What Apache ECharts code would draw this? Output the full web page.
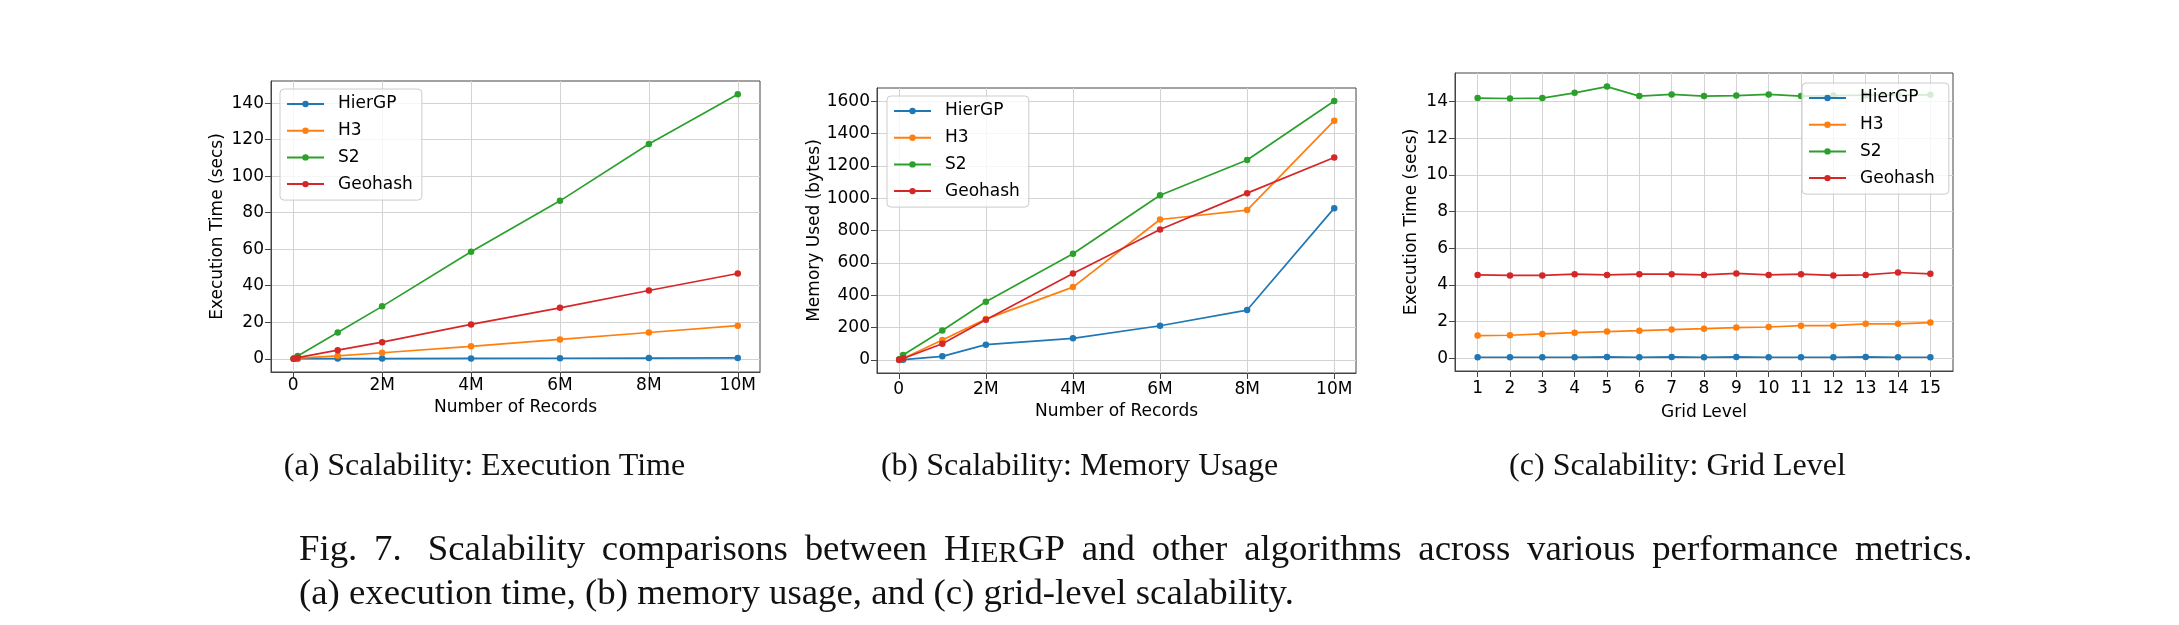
<!DOCTYPE html>
<html><head><meta charset="utf-8">
<script src="https://cdn.jsdelivr.net/npm/echarts@6/dist/echarts.min.js"></script>
<style>html,body{margin:0;padding:0;background:#fff}#c{width:2179px;height:625px}</style>
</head><body><div id="c"></div>
<script>
const seriesNames = ['HierGP', 'H3', 'S2', 'Geohash'];
const colors = ['#1f77b4', '#ff7f0e', '#2ca02c', '#d62728'];

// (a) Scalability: Execution Time  (x in millions of records)
const recordsM = [0.01, 0.1, 1, 2, 4, 6, 8, 10];
const timeHierGP = [0.02, 0.03, 0.08, 0.12, 0.2, 0.28, 0.36, 0.45];
const timeH3 = [0.05, 0.3, 1.6, 3.3, 6.8, 10.6, 14.4, 18.1];
const timeS2 = [0.1, 1.5, 14.4, 28.7, 58.6, 86.5, 117.6, 144.9];
const timeGeohash = [0.05, 0.6, 4.7, 9.1, 18.8, 27.9, 37.4, 46.7];

// (b) Scalability: Memory Usage
const memHierGP = [0, 2, 23, 95, 134, 212, 309, 939];
const memH3 = [2, 10, 124, 253, 451, 869, 927, 1480];
const memS2 = [5, 31, 183, 360, 657, 1019, 1237, 1602];
const memGeohash = [2, 10, 101, 249, 535, 807, 1032, 1252];

// (c) Scalability: Grid Level
const gridLevels = [1, 2, 3, 4, 5, 6, 7, 8, 9, 10, 11, 12, 13, 14, 15];
const gridHierGP = [0.06, 0.06, 0.06, 0.06, 0.08, 0.06, 0.08, 0.06, 0.08, 0.06, 0.06, 0.06, 0.08, 0.06, 0.06];
const gridH3 = [1.24, 1.26, 1.33, 1.40, 1.46, 1.51, 1.57, 1.62, 1.68, 1.71, 1.78, 1.78, 1.88, 1.88, 1.95];
const gridS2 = [14.19, 14.17, 14.19, 14.48, 14.82, 14.30, 14.39, 14.30, 14.33, 14.39, 14.30, 14.33, 14.35, 14.35, 14.37];
const gridGeohash = [4.55, 4.52, 4.52, 4.59, 4.55, 4.59, 4.59, 4.55, 4.63, 4.55, 4.59, 4.52, 4.55, 4.68, 4.61];

// tick values / labels
const recordTicks = [0, 2, 4, 6, 8, 10];
const recordTickLabels = ['0', '2M', '4M', '6M', '8M', '10M'];
const timeTicks = [0, 20, 40, 60, 80, 100, 120, 140];
const memTicks = [0, 200, 400, 600, 800, 1000, 1200, 1400, 1600];
const gridTimeTicks = [0, 2, 4, 6, 8, 10, 12, 14];

// texts
const subCaptions = ['(a) Scalability: Execution Time', '(b) Scalability: Memory Usage', '(c) Scalability: Grid Level'];
const xNames = ['Number of Records', 'Number of Records', 'Grid Level'];
const yNames = ['Execution Time (secs)', 'Memory Used (bytes)', 'Execution Time (secs)'];
const captionLine1Words = ['Fig.', '7.', 'Scalability', 'comparisons', 'between', '{s|H}{sc|IER}{s|GP}', 'and', 'other', 'algorithms', 'across', 'various', 'performance', 'metrics.'];
const captionLine2 = '(a) execution time, (b) memory usage, and (c) grid-level scalability.';

const SANS = 'DejaVu Sans';
const SERIF = 'Liberation Serif';
const FS = 17;
const AX = '#444';
const GRIDC = '#d3d3d3';

function xAxisCfg(gi, min, max, ticks, labels, name, nameGap, margin) {
  return {
    type: 'value', gridIndex: gi, min: min, max: max,
    name: name, nameLocation: 'middle', nameGap: nameGap,
    nameTextStyle: { fontFamily: SANS, fontSize: FS, color: '#000', lineHeight: 17 },
    axisLine: { show: true, onZero: false, lineStyle: { color: AX, width: 1 } },
    axisTick: { show: true, inside: false, length: 6, customValues: ticks, lineStyle: { color: AX, width: 1 } },
    axisLabel: { customValues: ticks, margin: margin, fontFamily: SANS, fontSize: FS, color: '#000', lineHeight: 17,
      formatter: function (v) { const i = ticks.indexOf(v); return i >= 0 ? labels[i] : ''; } },
    splitLine: { show: true, lineStyle: { color: GRIDC, width: 1 } }
  };
}
function yAxisCfg(gi, min, max, ticks, name, nameGap) {
  return {
    type: 'value', gridIndex: gi, min: min, max: max,
    name: name, nameLocation: 'middle', nameGap: nameGap,
    nameTextStyle: { fontFamily: SANS, fontSize: FS, color: '#000', lineHeight: 17 },
    axisLine: { show: true, onZero: false, lineStyle: { color: AX, width: 1 } },
    axisTick: { show: true, inside: false, length: 6, customValues: ticks, lineStyle: { color: AX, width: 1 } },
    axisLabel: { customValues: ticks, margin: 7, fontFamily: SANS, fontSize: FS, color: '#000',
      formatter: function (v) { return String(v); } },
    splitLine: { show: true, lineStyle: { color: GRIDC, width: 1 } }
  };
}
function legendCfg(left, top, padRight) {
  return {
    orient: 'vertical', left: left, top: top, data: seriesNames,
    backgroundColor: 'rgba(255,255,255,0.8)', borderColor: '#cccccc', borderWidth: 1, borderRadius: 4,
    padding: [6, padRight, 7, 6], itemGap: 8.7, itemWidth: 37, itemHeight: 8, selectedMode: false,
    textStyle: { fontFamily: SANS, fontSize: FS, color: '#000', lineHeight: 18, padding: [0, 0, 0, 9] }
  };
}
function mkSeries(gi, xs, ys, k) {
  return {
    type: 'line', name: seriesNames[k], xAxisIndex: gi, yAxisIndex: gi,
    data: xs.map(function (x, i) { return [x, ys[i]]; }),
    symbol: 'circle', symbolSize: 6.5, showAllSymbol: true,
    lineStyle: { color: colors[k], width: 1.7 }, itemStyle: { color: colors[k] },
    emphasis: { disabled: true }, animation: false, z: 2 + k * 0.01
  };
}

const series = [];
[timeHierGP, timeH3, timeS2, timeGeohash].forEach(function (d, k) { series.push(mkSeries(0, recordsM, d, k)); });
[memHierGP, memH3, memS2, memGeohash].forEach(function (d, k) { series.push(mkSeries(1, recordsM, d, k)); });
[gridHierGP, gridH3, gridS2, gridGeohash].forEach(function (d, k) { series.push(mkSeries(2, gridLevels, d, k)); });

// caption (justified first line, small caps "HierGP")
const capM = 36.8, capS = 29.4, capLH = 40;
const capSLH = 2 * (capLH / 2 - 0.3375 * (capM - capS));
const capRich = {
  s: { fontFamily: SERIF, fontSize: capM, lineHeight: capLH, verticalAlign: 'bottom', fill: '#111' },
  sc: { fontFamily: SERIF, fontSize: capS, lineHeight: capSLH, verticalAlign: 'bottom', fill: '#111' },
  sp: { fontFamily: SERIF, fontSize: capM, lineHeight: capLH, verticalAlign: 'bottom', fill: '#111', padding: [0, 7.6, 0, 0] }
};
const line1 = captionLine1Words.map(function (w, i) {
  const tok = w.indexOf('{') === 0 ? w : '{s|' + w + '}';
  if (i === captionLine1Words.length - 1) return tok;
  return tok + (i === 1 ? '{sp|  }' : '{sp| }');
}).join('');

const chart = echarts.init(document.getElementById('c'), null, { renderer: 'canvas' });
chart.setOption({
  backgroundColor: '#fff',
  animation: false,
  grid: [
    { left: 271, top: 81, width: 489, height: 291, show: true, borderColor: AX, borderWidth: 1, backgroundColor: 'transparent', containLabel: false },
    { left: 877, top: 88, width: 479, height: 285, show: true, borderColor: AX, borderWidth: 1, backgroundColor: 'transparent', containLabel: false },
    { left: 1455, top: 73, width: 498, height: 298, show: true, borderColor: AX, borderWidth: 1, backgroundColor: 'transparent', containLabel: false }
  ],
  xAxis: [
    xAxisCfg(0, -0.5, 10.5, recordTicks, recordTickLabels, xNames[0], 27, 5),
    xAxisCfg(1, -0.5, 10.5, recordTicks, recordTickLabels, xNames[1], 30, 8),
    xAxisCfg(2, 0.3, 15.7, gridLevels, gridLevels.map(String), xNames[2], 33, 9)
  ],
  yAxis: [
    yAxisCfg(0, -7.25, 152.15, timeTicks, yNames[0], 44.5),
    yAxisCfg(1, -80.1, 1682, memTicks, yNames[1], 54.3),
    yAxisCfg(2, -0.69, 15.56, gridTimeTicks, yNames[2], 35.1)
  ],
  legend: [legendCfg(280, 89, 9), legendCfg(887, 96, 9), legendCfg(1802, 83, 14)],
  series: series,
  graphic: [
    { type: 'text', x: 484.5, y: 467, style: { text: subCaptions[0], align: 'center', verticalAlign: 'middle', font: '32px "' + SERIF + '"', fill: '#111' } },
    { type: 'text', x: 1079.5, y: 467, style: { text: subCaptions[1], align: 'center', verticalAlign: 'middle', font: '32px "' + SERIF + '"', fill: '#111' } },
    { type: 'text', x: 1677.5, y: 467, style: { text: subCaptions[2], align: 'center', verticalAlign: 'middle', font: '32px "' + SERIF + '"', fill: '#111' } },
    { type: 'text', x: 299, y: 549, style: { text: line1, rich: capRich, align: 'left', verticalAlign: 'middle' } },
    { type: 'text', x: 299, y: 593, style: { text: '{s|' + captionLine2 + '}', rich: capRich, align: 'left', verticalAlign: 'middle' } }
  ]
});
</script>
</body></html>
